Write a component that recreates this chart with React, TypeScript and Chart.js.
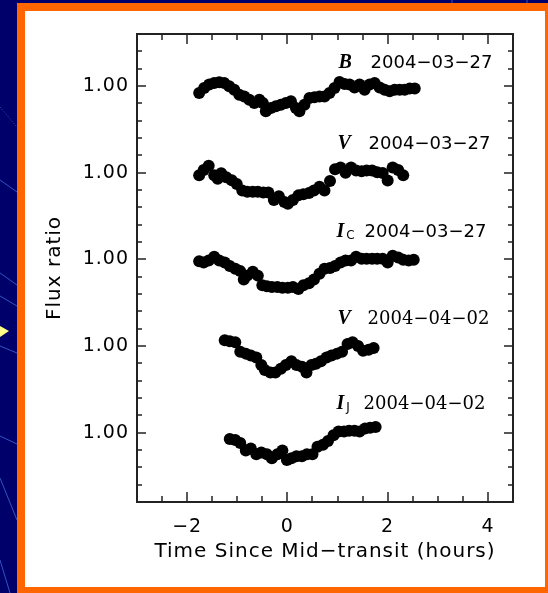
import { useEffect, useRef } from 'react';
import { Chart, registerables } from 'chart.js';

Chart.register(...registerables);

// ---------- data (time in hours, relative flux) ----------
const B_TIME = [-1.76, -1.66, -1.56, -1.46, -1.36, -1.26, -1.16, -1.06, -0.96, -0.86, -0.76, -0.66, -0.56, -0.49, -0.43, -0.33, -0.23, -0.13, -0.03, 0.07, 0.17, 0.24, 0.34, 0.44, 0.54, 0.64, 0.74, 0.84, 0.94, 1.04, 1.14, 1.24, 1.34, 1.44, 1.54, 1.64, 1.74, 1.84, 1.94, 2.04, 2.14, 2.24, 2.34, 2.44, 2.54];
const B_FLUX = [0.9960, 0.9988, 1.0008, 1.0017, 1.0021, 1.0017, 0.9998, 0.9979, 0.9950, 0.9940, 0.9921, 0.9902, 0.9921, 0.9902, 0.9854, 0.9873, 0.9883, 0.9892, 0.9902, 0.9912, 0.9873, 0.9854, 0.9892, 0.9931, 0.9935, 0.9940, 0.9940, 0.9960, 0.9988, 1.0023, 1.0012, 1.0008, 0.9992, 1.0008, 0.9979, 1.0008, 1.0017, 0.9992, 0.9979, 0.9969, 0.9979, 0.9979, 0.9979, 0.9985, 0.9985];

const V1_TIME = [-1.76, -1.67, -1.57, -1.46, -1.39, -1.32, -1.22, -1.11, -1.01, -0.90, -0.80, -0.69, -0.59, -0.48, -0.38, -0.27, -0.17, -0.06, 0.01, 0.11, 0.22, 0.32, 0.43, 0.53, 0.64, 0.74, 0.85, 0.95, 1.06, 1.16, 1.27, 1.37, 1.48, 1.58, 1.69, 1.79, 1.90, 2.00, 2.10, 2.21, 2.31];
const V1_FLUX = [0.9985, 1.0015, 1.0040, 0.9985, 0.9965, 0.9996, 0.9974, 0.9956, 0.9934, 0.9897, 0.9890, 0.9890, 0.9890, 0.9886, 0.9886, 0.9842, 0.9864, 0.9831, 0.9820, 0.9842, 0.9869, 0.9875, 0.9882, 0.9897, 0.9919, 0.9897, 0.9952, 1.0020, 1.0030, 1.0000, 1.0030, 1.0012, 1.0008, 1.0012, 1.0012, 1.0003, 0.9998, 0.9955, 1.0030, 1.0015, 0.9985];

const IC_TIME = [-1.76, -1.67, -1.57, -1.46, -1.36, -1.25, -1.15, -1.04, -0.94, -0.87, -0.80, -0.69, -0.59, -0.50, -0.41, -0.31, -0.20, -0.10, 0.01, 0.11, 0.22, 0.32, 0.43, 0.53, 0.64, 0.74, 0.85, 0.95, 1.06, 1.16, 1.27, 1.37, 1.48, 1.58, 1.69, 1.79, 1.90, 2.00, 2.10, 2.21, 2.31, 2.42, 2.52];
const IC_FLUX = [0.9989, 0.9982, 0.9993, 1.0015, 0.9993, 0.9982, 0.9961, 0.9945, 0.9932, 0.9884, 0.9906, 0.9928, 0.9906, 0.9851, 0.9845, 0.9840, 0.9840, 0.9836, 0.9836, 0.9840, 0.9829, 0.9851, 0.9862, 0.9884, 0.9917, 0.9945, 0.9950, 0.9961, 0.9982, 0.9993, 0.9993, 1.0015, 1.0004, 1.0004, 1.0004, 1.0004, 1.0004, 0.9982, 1.0020, 1.0011, 0.9998, 0.9993, 0.9998];

const V2_TIME = [-1.25, -1.15, -1.04, -0.94, -0.83, -0.73, -0.62, -0.52, -0.45, -0.34, -0.24, -0.13, -0.03, 0.08, 0.18, 0.29, 0.38, 0.48, 0.57, 0.67, 0.78, 0.88, 0.99, 1.09, 1.20, 1.30, 1.41, 1.51, 1.62, 1.72];
const V2_FLUX = [1.0033, 1.0028, 1.0022, 0.9967, 0.9956, 0.9945, 0.9934, 0.9890, 0.9862, 0.9847, 0.9847, 0.9869, 0.9890, 0.9912, 0.9890, 0.9880, 0.9847, 0.9890, 0.9897, 0.9912, 0.9934, 0.9945, 0.9956, 0.9967, 1.0011, 1.0022, 1.0000, 0.9972, 0.9978, 0.9989];

const IJ_TIME = [-1.15, -1.04, -0.94, -0.83, -0.73, -0.62, -0.52, -0.41, -0.31, -0.20, -0.10, -0.01, 0.08, 0.18, 0.29, 0.39, 0.50, 0.60, 0.71, 0.81, 0.92, 1.02, 1.13, 1.23, 1.34, 1.44, 1.55, 1.65, 1.76];
const IJ_FLUX = [0.9963, 0.9958, 0.9941, 0.9897, 0.9908, 0.9875, 0.9886, 0.9875, 0.9853, 0.9875, 0.9897, 0.9842, 0.9853, 0.9864, 0.9864, 0.9875, 0.9875, 0.9919, 0.9930, 0.9952, 0.9985, 1.0007, 1.0007, 1.0011, 1.0011, 1.0007, 1.0024, 1.0028, 1.0033];

// vertical offsets of the stacked light curves
const OFFSETS = [0, -0.05, -0.10, -0.15, -0.20];
const SERIES_TIME = [B_TIME, V1_TIME, IC_TIME, V2_TIME, IJ_TIME];
const SERIES_FLUX = [B_FLUX, V1_FLUX, IC_FLUX, V2_FLUX, IJ_FLUX];

// labels
const BANDS = ['B', 'V', 'I', 'V', 'I'];
const BAND_SUBS = ['', '', 'C', '', 'J'];
const DATES = ['2004−03−27', '2004−03−27', '2004−03−27', '2004−04−02', '2004−04−02'];
const Y_TICK_LABEL = '1.00';
const X_TICK_VALUES = [-2, 0, 2, 4];
const X_MINOR = [-2.5, -2, -1.5, -1, -0.5, 0, 0.5, 1, 1.5, 2, 2.5, 3, 3.5, 4];
const X_TITLE = 'Time Since Mid−transit (hours)';
const Y_TITLE = 'Flux ratio';

// label anchors (data coordinates)
const LABEL_LETTER_X = [1.02, 1.0, 0.98, 1.0, 0.98];
const LABEL_DATE_X = [1.66, 1.62, 1.54, 1.6, 1.52];
const LABEL_DY = [0.0133, 0.0166, 0.0158, 0.0156, 0.0166];

const bgPlugin = {
  id: 'bgPlugin',
  beforeDraw(chart: any) {
    const ctx = chart.ctx as CanvasRenderingContext2D;
    const W = chart.width;
    const H = chart.height;
    ctx.save();
    (ctx as any).letterSpacing = '0px';
    ctx.fillStyle = '#00006a';
    ctx.fillRect(0, 0, W, H);
    ctx.strokeStyle = 'rgba(70,120,230,0.7)';
    ctx.lineWidth = 1;
    const segs = [
      [0, 180, 17, 192], [0, 273, 17, 285], [0, 296, 17, 306],
      [0, 346, 17, 353], [0, 436, 17, 444], [0, 478, 17, 520], [0, 560, 10, 593],
      [452, 0, 452, 3], [527, 0, 527, 3],
    ];
    ctx.beginPath();
    segs.forEach(([a, b, c, d]) => { ctx.moveTo(a, b); ctx.lineTo(c, d); });
    ctx.stroke();
    ctx.setLineDash([1, 2]);
    ctx.beginPath();
    ctx.moveTo(0, 107); ctx.lineTo(17, 127);
    ctx.stroke();
    ctx.setLineDash([]);
    ctx.fillStyle = '#ffff88';
    ctx.beginPath();
    ctx.moveTo(0, 326); ctx.lineTo(9, 331); ctx.lineTo(0, 337); ctx.closePath();
    ctx.fill();
    ctx.fillStyle = '#ff6600';
    ctx.fillRect(17, 3, W - 17, H - 3);
    ctx.fillStyle = '#ffffff';
    ctx.fillRect(25, 11, 520, 576);
    ctx.restore();
    (ctx as any).letterSpacing = '1px';
  },
};

const framePlugin = {
  id: 'framePlugin',
  afterDatasetsDraw(chart: any) {
    const ctx = chart.ctx as CanvasRenderingContext2D;
    const a = chart.chartArea;
    const xs = chart.scales.x;
    const ys = chart.scales.y;
    ctx.save();
    (ctx as any).letterSpacing = '0px';
    ctx.strokeStyle = '#222';
    ctx.lineWidth = 2;
    ctx.strokeRect(a.left, a.top, a.right - a.left, a.bottom - a.top);
    ctx.lineWidth = 1.5;
    ctx.beginPath();
    X_MINOR.forEach((v) => {
      const px = Math.round(xs.getPixelForValue(v));
      const len = X_TICK_VALUES.includes(v) ? 10 : 6;
      ctx.moveTo(px, a.bottom); ctx.lineTo(px, a.bottom - len);
      ctx.moveTo(px, a.top); ctx.lineTo(px, a.top + len);
    });
    for (let k = -23; k <= 2; k++) {
      const py = Math.round(ys.getPixelForValue(k / 100));
      const major = k % 5 === 0 && k >= -20 && k <= 0;
      const len = major ? 9 : 5;
      ctx.moveTo(a.left, py); ctx.lineTo(a.left + len, py);
      ctx.moveTo(a.right, py); ctx.lineTo(a.right - len, py);
    }
    ctx.stroke();

    // curve labels
    ctx.fillStyle = '#000';
    ctx.textBaseline = 'middle';
    ctx.textAlign = 'left';
    for (let i = 0; i < BANDS.length; i++) {
      const yc = ys.getPixelForValue(OFFSETS[i] + LABEL_DY[i]);
      const lx = xs.getPixelForValue(LABEL_LETTER_X[i]);
      ctx.font = 'italic bold 20px "Liberation Serif"';
      ctx.fillText(BANDS[i], lx, yc);
      if (BAND_SUBS[i]) {
        const w = ctx.measureText(BANDS[i]).width;
        ctx.font = '12px "DejaVu Sans"';
        ctx.fillText(BAND_SUBS[i], lx + w + 2, yc + 4);
      }
      ctx.font = i >= 3 ? '18px "DejaVu Serif"' : '18px "DejaVu Sans"';
      ctx.fillText(DATES[i], xs.getPixelForValue(LABEL_DATE_X[i]), yc);
    }
    ctx.restore();
    (ctx as any).letterSpacing = '1px';
  },
};

export default function App() {
  const ref = useRef<HTMLCanvasElement | null>(null);
  useEffect(() => {
    if (!ref.current) return;
    const datasets = SERIES_TIME.map((times, i) => ({
      label: BANDS[i] + BAND_SUBS[i] + ' ' + DATES[i],
      data: times.map((t, j) => ({ x: t, y: SERIES_FLUX[i][j] - 1 + OFFSETS[i] })),
      backgroundColor: '#000',
      borderWidth: 0,
      pointRadius: 6,
      pointHoverRadius: 6,
      showLine: false,
    }));
    const font = { family: '"DejaVu Sans"', size: 19 };
    const chart = new Chart(ref.current, {
      type: 'scatter',
      data: { datasets },
      plugins: [bgPlugin, framePlugin],
      options: {
        animation: false,
        responsive: false,
        devicePixelRatio: 1,
        layout: { padding: { left: 0, top: 34, right: 35, bottom: 0 } },
        plugins: { legend: { display: false }, tooltip: { enabled: false } },
        scales: {
          x: {
            type: 'linear',
            min: -3,
            max: 4.5,
            afterFit: (s: any) => { s.height = 91; },
            afterBuildTicks: (s: any) => { s.ticks = X_TICK_VALUES.map((value) => ({ value })); },
            grid: { display: false, drawTicks: false },
            border: { display: false },
            ticks: {
              autoSkip: false,
              maxRotation: 0,
              padding: 14,
              color: '#000',
              font,
              callback: (v: any) => (v < 0 ? '−' + Math.abs(v) : String(v)),
            },
            title: {
              display: true,
              text: X_TITLE,
              color: '#000',
              font: { family: '"DejaVu Sans"', size: 20 },
              padding: { top: 0, bottom: 29 },
            },
          },
          y: {
            type: 'linear',
            min: -0.24,
            max: 0.03,
            afterFit: (s: any) => { s.width = 137; },
            afterBuildTicks: (s: any) => { s.ticks = OFFSETS.map((value) => ({ value })); },
            grid: { display: false, drawTicks: false },
            border: { display: false },
            ticks: {
              autoSkip: false,
              padding: 8,
              color: '#000',
              font,
              callback: () => Y_TICK_LABEL,
            },
            title: {
              display: true,
              text: Y_TITLE,
              color: '#000',
              font: { family: '"DejaVu Sans"', size: 20 },
              padding: { top: 43, bottom: 0 },
            },
          },
        },
      },
    } as any);
    return () => chart.destroy();
  }, []);
  return (
    <canvas
      ref={ref}
      width={548}
      height={593}
      style={{ position: 'fixed', left: 0, top: 0, width: 548, height: 593, display: 'block' }}
    />
  );
}
